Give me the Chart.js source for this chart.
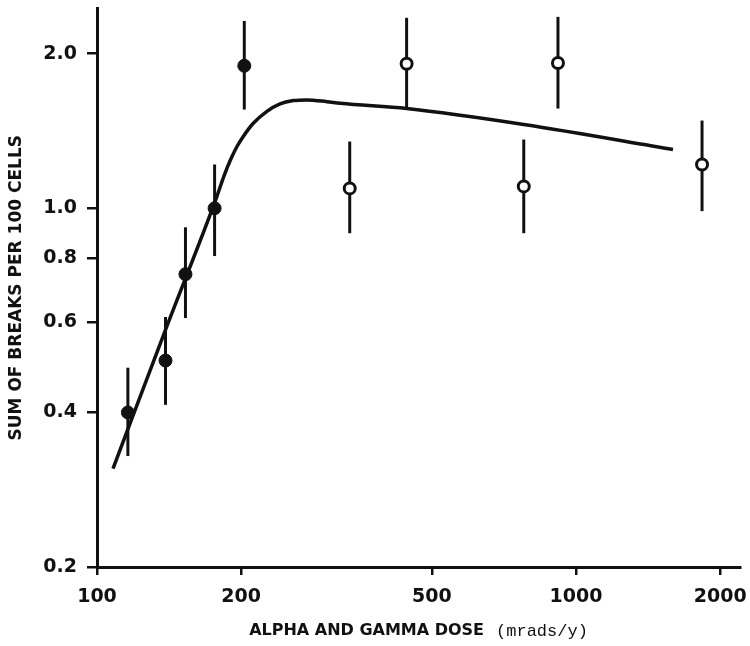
<!DOCTYPE html>
<html>
<head>
<meta charset="utf-8">
<script src="https://cdn.jsdelivr.net/npm/chart.js@4/dist/chart.umd.min.js"></script>
<style>
  html, body { margin: 0; padding: 0; background: #fff; }
</style>
</head>
<body>
<canvas id="grafico" width="750" height="646"></canvas>
<script>
// Puntos llenos (dosis baja)
const filledDose = [116, 139, 153, 176, 203];
const filledBreaks = [0.40, 0.505, 0.744, 1.00, 1.895];
const filledLow = [0.329, 0.414, 0.611, 0.807, 1.557];
const filledHigh = [0.489, 0.614, 0.918, 1.217, 2.317];

// Puntos abiertos (dosis alta)
const openDose = [337, 443, 778, 917, 1833];
const openBreaks = [1.093, 1.912, 1.103, 1.919, 1.217];
const openLow = [0.894, 1.564, 0.894, 1.564, 0.987];
const openHigh = [1.349, 2.35, 1.361, 2.36, 1.482];

// Curva ajustada
const fitDose = [108, 140, 178, 184, 190, 196, 202, 212, 226, 241, 257, 274, 302, 322, 443, 778, 1594];
const fitBreaks = [0.311, 0.59, 1.055, 1.154, 1.243, 1.319, 1.38, 1.464, 1.543, 1.597, 1.621, 1.626, 1.613, 1.601, 1.564, 1.456, 1.302];

// Ticks
const xTicks = [100, 200, 500, 1000, 2000];
const yTicks = [0.2, 0.4, 0.6, 0.8, 1.0, 2.0];
const yTickLabels = ['0.2', '0.4', '0.6', '0.8', '1.0', '2.0'];

const ink = '#111';

const toPoints = (xs, ys) => xs.map((v, i) => ({ x: v, y: ys[i] }));

// Barras de error
const errorBars = {
  id: 'errorBars',
  beforeDatasetsDraw(chart) {
    const ctx = chart.ctx, sx = chart.scales.x, sy = chart.scales.y;
    ctx.save();
    ctx.strokeStyle = ink;
    ctx.lineWidth = 3;
    const draw = (dose, low, high) => dose.forEach((d, i) => {
      const px = sx.getPixelForValue(d);
      ctx.beginPath();
      ctx.moveTo(px, sy.getPixelForValue(low[i]));
      ctx.lineTo(px, sy.getPixelForValue(high[i]));
      ctx.stroke();
    });
    draw(filledDose, filledLow, filledHigh);
    draw(openDose, openLow, openHigh);
    ctx.restore();
  }
};

// Titulo del eje x con dos fuentes
const xTitle = {
  id: 'xTitle',
  afterDraw(chart) {
    const ctx = chart.ctx, area = chart.chartArea;
    const partA = 'ALPHA AND GAMMA DOSE';
    const partB = '(mrads/y)';
    const fontA = 'bold 16px "DejaVu Sans"';
    const fontB = '17px "Liberation Mono"';
    ctx.save();
    ctx.fillStyle = ink;
    ctx.textBaseline = 'middle';
    ctx.font = fontA;
    const wA = ctx.measureText(partA).width;
    ctx.font = fontB;
    const wB = ctx.measureText(partB).width;
    const gap = 12;
    let x0 = (area.left + area.right) / 2 - (wA + gap + wB) / 2;
    const y0 = 631;
    ctx.font = fontA;
    ctx.fillText(partA, x0, y0);
    ctx.font = fontB;
    ctx.fillText(partB, x0 + wA + gap, y0);
    ctx.restore();
  }
};

const ctx = document.getElementById('grafico').getContext('2d');
new Chart(ctx, {
  type: 'scatter',
  data: {
    datasets: [
      {
        label: 'ajuste',
        data: toPoints(fitDose, fitBreaks),
        showLine: true,
        borderColor: ink,
        borderWidth: 3.5,
        pointRadius: 0,
        cubicInterpolationMode: 'monotone',
        order: 2
      },
      {
        label: 'llenos',
        data: toPoints(filledDose, filledBreaks),
        pointRadius: 6.5,
        pointBackgroundColor: ink,
        pointBorderColor: ink,
        pointBorderWidth: 1,
        order: 1
      },
      {
        label: 'abiertos',
        data: toPoints(openDose, openBreaks),
        pointRadius: 5.5,
        pointBackgroundColor: '#fff',
        pointBorderColor: ink,
        pointBorderWidth: 3,
        order: 1
      }
    ]
  },
  options: {
    responsive: false,
    animation: false,
    layout: { padding: { top: 7, right: 10, left: 0, bottom: 0 } },
    plugins: {
      legend: { display: false },
      tooltip: { enabled: false }
    },
    scales: {
      x: {
        type: 'logarithmic',
        min: 100,
        max: 2200,
        afterBuildTicks: s => { s.ticks = xTicks.map(v => ({ value: v })); },
        afterFit: s => { s.height = 646 - 567; s.paddingLeft = 0; s.paddingRight = 0; },
        ticks: {
          autoSkip: false,
          maxRotation: 0,
          padding: 11,
          color: ink,
          font: { family: 'DejaVu Sans', size: 19, weight: 'bold' },
          callback: v => String(v)
        },
        grid: { drawOnChartArea: false, drawTicks: true, tickLength: 8, color: ink, lineWidth: 2.5 },
        border: { display: true, color: ink, width: 3 },
        title: { display: false }
      },
      y: {
        type: 'logarithmic',
        min: 0.2,
        max: 2.45,
        afterBuildTicks: s => { s.ticks = yTicks.map(v => ({ value: v })); },
        afterFit: s => { s.width = 97; s.paddingTop = 0; s.paddingBottom = 0; },
        ticks: {
          autoSkip: false,
          padding: 10,
          color: ink,
          font: { family: 'DejaVu Sans', size: 19, weight: 'bold' },
          callback: v => yTickLabels[yTicks.indexOf(v)] ?? ''
        },
        grid: { drawOnChartArea: false, drawTicks: true, tickLength: 10, color: ink, lineWidth: 2.5 },
        border: { display: true, color: ink, width: 3 },
        title: {
          display: true,
          text: 'SUM OF BREAKS PER 100 CELLS',
          color: ink,
          font: { family: 'DejaVu Sans', size: 17, weight: 'bold' },
          padding: { top: 6, bottom: 0 }
        }
      }
    }
  },
  plugins: [errorBars, xTitle]
});
</script>
</body>
</html>
